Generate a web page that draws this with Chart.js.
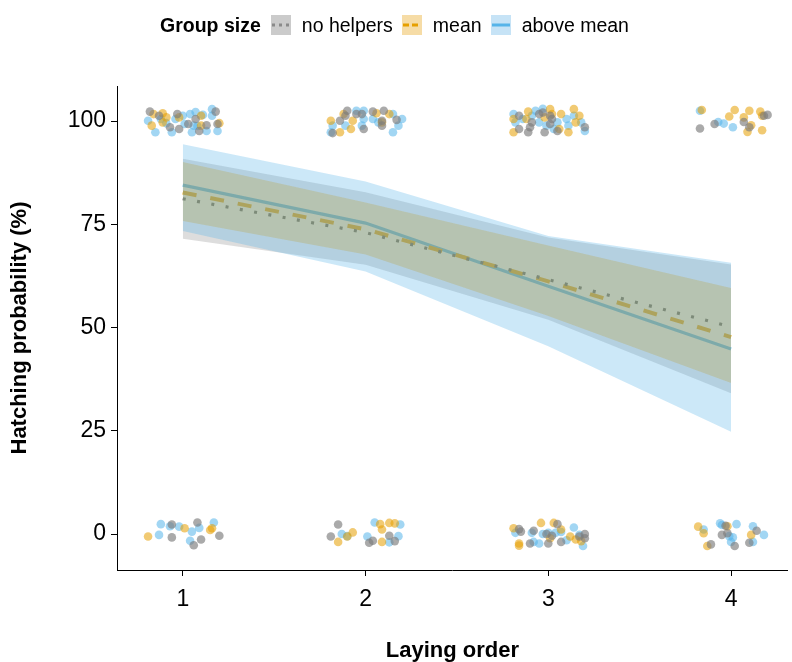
<!DOCTYPE html>
<html><head><meta charset="utf-8">
<script src="https://cdn.jsdelivr.net/npm/chart.js@4.4.0/dist/chart.umd.min.js"></script>
<style>
html,body{margin:0;padding:0;background:#fff;}
#wrap{position:relative;width:792px;height:662px;overflow:hidden;}
#c{position:absolute;left:0;top:0;}
#legend{position:absolute;left:160px;top:13px;height:24px;display:flex;align-items:center;font-family:"Liberation Sans",Arial,sans-serif;font-size:19.5px;color:#000;white-space:nowrap;}
.key{position:relative;display:inline-block;width:20px;height:20px;}
.key svg{position:absolute;left:0;top:0;}
</style></head>
<body><div id="wrap"><canvas id="c" width="792" height="662"></canvas>
<div id="legend">
<b style="margin-right:10px">Group size</b>
<span class="key" style="background:#cbcbcb"><svg width="20" height="20"><line x1="1" y1="10" x2="19" y2="10" stroke="#8a8a8a" stroke-width="3" stroke-dasharray="3,4"/></svg></span>
<span style="margin:0 9px 0 11px">no helpers</span>
<span class="key" style="background:#f6dca6"><svg width="20" height="20"><line x1="1" y1="10" x2="19" y2="10" stroke="#e69f00" stroke-width="3" stroke-dasharray="6,3"/></svg></span>
<span style="margin:0 9px 0 11px">mean</span>
<span class="key" style="background:#c6e3f6"><svg width="20" height="20"><line x1="1" y1="10" x2="19" y2="10" stroke="#56b4e9" stroke-width="3"/></svg></span>
<span style="margin:0 0 0 11px">above mean</span>
</div>
</div>
<script>
// ---- data ----
const layingOrder = [1, 2, 3, 4];
const yTickValues = [0, 25, 50, 75, 100];

const noHelpersFit  = [81.2, 73.0, 61.6, 50.2];
const noHelpersLow  = [71.5, 65.2, 51.9, 34.1];
const noHelpersHigh = [90.9, 82.8, 71.8, 65.3];

const meanFit  = [82.7, 73.8, 61.2, 47.7];
const meanLow  = [75.8, 67.7, 52.8, 36.6];
const meanHigh = [90.1, 80.3, 69.9, 59.6];

const aboveMeanFit  = [84.5, 75.3, 60.0, 44.8];
const aboveMeanLow  = [73.4, 63.6, 45.5, 24.8];
const aboveMeanHigh = [94.4, 85.4, 72.2, 65.7];

// jittered raw observations [laying order, hatched %]
const noHelpersPts = [
 [0.82,102.3],[0.93,98.5],[0.97,101.7],[0.98,98.1],[1.03,99.3],[1.07,100.5],[1.09,97.6],[1.18,102.3],[1.19,99.3],[0.87,101.3],[1.13,99.0],
 [1.82,97.1],[1.86,100.1],[1.90,102.5],[1.89,101.3],[1.95,101.7],[1.98,101.7],[1.99,98.1],[2.04,102.3],[2.09,98.9],[2.10,102.5],[2.17,100.3],[2.09,100.1],
 [2.84,98.1],[2.89,97.3],[2.91,99.7],[2.90,98.5],[2.95,101.7],[2.97,102.1],[2.98,97.3],[3.01,101.3],[3.02,100.5],[3.01,99.3],[3.05,97.6],[3.20,98.5],[2.84,101.3],
 [3.83,98.2],[3.91,99.3],[4.07,99.8],[4.10,98.5],[4.18,101.3],[4.20,101.5],
 [0.94,2.3],[0.94,-0.8],[1.06,-2.7],[1.08,2.8],[1.10,-1.3],[1.20,-0.4],
 [1.85,2.3],[1.81,-0.6],[2.02,-2.1],[2.04,-1.6],[2.13,-0.4],[2.16,-1.7],
 [2.84,1.2],[2.85,0.6],[2.90,-2.3],[2.92,0.8],[2.99,0.0],[3.00,-2.3],[3.02,-0.4],[3.05,2.4],[3.07,-1.9],[3.17,-0.6],[3.20,0.0],[3.20,-1.0],
 [3.89,-2.5],[3.97,2.0],[3.95,-0.2],[3.98,0.2],[4.02,-2.9],[4.14,0.8],[4.10,-2.1]
];
const meanPts = [
 [0.84,101.7],[0.83,98.9],[0.89,101.9],[0.98,100.9],[1.10,101.3],[1.10,98.9],[1.20,99.5],[0.91,100.9],[0.89,99.7],
 [1.81,100.1],[1.86,97.3],[1.88,101.7],[1.93,100.1],[1.92,98.1],[2.06,101.9],[2.13,101.7],[2.09,99.7],
 [2.81,100.5],[2.81,97.3],[2.89,102.3],[2.98,100.9],[3.01,102.9],[3.02,101.7],[3.06,98.1],[3.07,101.7],[3.11,97.3],[3.14,102.9],[3.17,101.3],[3.15,99.7],[2.88,100.5],
 [3.84,102.7],[3.99,101.1],[4.02,102.7],[4.07,100.9],[4.10,102.5],[4.11,99.0],[4.09,97.4],[4.16,102.3],[4.17,97.8],[4.17,101.3],
 [0.81,-0.6],[1.01,1.4],[1.15,1.0],[1.16,1.4],
 [1.85,-1.9],[1.90,-0.6],[1.93,0.4],[2.08,2.4],[2.09,1.1],[2.13,2.7],[2.16,2.6],[2.09,-1.9],
 [2.81,1.4],[2.84,-2.3],[2.84,-2.8],[2.96,2.7],[3.01,-1.0],[3.03,2.7],[3.07,1.1],[3.12,-0.6],[3.15,-1.3],[3.18,-1.7],
 [3.82,1.8],[3.85,0.2],[3.87,-2.9],[3.98,1.9],[4.11,-0.2]
];
const aboveMeanPts = [
 [0.81,100.1],[0.85,97.3],[0.88,100.5],[0.91,99.5],[0.94,97.3],[1.00,101.3],[1.01,99.3],[1.05,97.3],[1.04,101.7],[1.07,102.2],[1.11,101.5],[1.13,97.6],[1.16,102.9],[1.16,101.3],[1.19,97.6],[0.96,100.5],[1.06,98.9],[1.08,98.8],
 [1.82,98.9],[1.81,97.3],[1.89,98.9],[1.95,102.5],[1.99,102.5],[1.98,98.9],[1.99,100.5],[2.04,100.5],[2.15,101.7],[2.20,100.5],[2.18,98.9],[2.15,97.3],[2.07,99.7],
 [2.81,101.7],[2.82,99.7],[2.86,100.5],[2.91,101.3],[2.93,102.5],[2.95,99.7],[2.99,98.9],[3.05,99.7],[3.03,98.1],[3.10,100.5],[3.11,98.9],[3.14,101.3],[3.18,99.7],[3.20,97.6],[2.97,103.0],
 [3.83,102.5],[3.93,99.8],[3.96,99.4],[4.01,98.5],
 [0.87,-0.2],[0.88,2.4],[0.93,1.9],[0.98,1.8],[1.05,0.6],[1.04,-1.6],[1.09,1.5],[1.17,2.8],
 [1.87,0.0],[1.90,-0.5],[2.05,2.8],[2.19,2.3],[2.01,-0.6],[2.13,-2.0],[2.18,-0.5],
 [2.82,0.3],[2.91,0.3],[2.92,-1.9],[2.95,-2.3],[2.97,0.0],[3.00,0.3],[3.04,0.3],[3.07,0.5],[3.10,-1.5],[3.14,1.6],[3.17,-0.2],[3.19,-2.9],
 [3.85,1.1],[3.94,2.6],[3.95,2.2],[3.99,-0.5],[4.01,-0.8],[4.00,-1.9],[4.03,2.4],[4.12,1.9],[4.12,-1.9],[4.18,-0.2]
];

// ---- chart ----
const toXY = (ys) => layingOrder.map((x, i) => ({x: x, y: ys[i]}));
const toPts = (arr) => arr.map(p => ({x: p[0], y: p[1]}));

const ribbon = (hi, lo, color, order) => [
  {type:'line', data: toXY(hi), borderWidth:0, pointRadius:0, fill:'+1', backgroundColor: color, order: order, tension:0},
  {type:'line', data: toXY(lo), borderWidth:0, pointRadius:0, fill:false, order: order, tension:0}
];
const fitLine = (ys, color, dash, width) => ({
  type:'line', data: toXY(ys), borderColor: color, borderWidth: width, borderDash: dash,
  borderCapStyle:'butt', pointRadius:0, fill:false, order: 20, tension:0
});
const pts = (arr, color) => ({
  type:'scatter', data: toPts(arr), backgroundColor: color, borderWidth:0, pointRadius:4.3, order:1
});

const datasets = [
  fitLine(noHelpersFit, '#555555', [3, 11.5], 3.2),
  fitLine(meanFit, '#e69f00', [14, 14], 4),
  fitLine(aboveMeanFit, '#56b4e9', [], 3.2),
  ...ribbon(noHelpersHigh, noHelpersLow, 'rgba(153,153,153,0.33)', 9),
  ...ribbon(meanHigh, meanLow, 'rgba(230,159,0,0.30)', 8),
  ...ribbon(aboveMeanHigh, aboveMeanLow, 'rgba(86,180,233,0.30)', 7),
  pts(noHelpersPts, 'rgba(125,125,125,0.65)'),
  pts(meanPts, 'rgba(230,159,0,0.55)'),
  pts(aboveMeanPts, 'rgba(86,180,233,0.55)')
];

const fontFam = '"Liberation Sans", Arial, sans-serif';
new Chart(document.getElementById('c'), {
  type: 'scatter',
  data: { datasets },
  options: {
    responsive: false,
    animation: false,
    events: [],
    layout: { padding: { top: 86, right: 2, left: 0, bottom: 0 } },
    plugins: { legend: { display: false }, tooltip: { enabled: false } },
    scales: {
      x: {
        type: 'linear', min: 0.64, max: 4.31,
        afterBuildTicks: (s) => { s.ticks = layingOrder.map(v => ({value: v})); },
        afterFit: (s) => { s.height = 92; },
        ticks: { color: '#000', font: { family: fontFam, size: 23 }, padding: 10, callback: (v) => String(v) },
        grid: { drawOnChartArea: false, color: '#000', tickLength: 6, lineWidth: 1 },
        border: { display: true, color: '#000', width: 1 },
        title: { display: true, text: 'Laying order', color: '#000', font: { family: fontFam, size: 22, weight: 'bold' }, padding: { top: 0, bottom: -2 } }
      },
      y: {
        type: 'linear', min: -8.7, max: 108.5,
        afterBuildTicks: (s) => { s.ticks = yTickValues.map(v => ({value: v})); },
        afterFit: (s) => { s.width = 117; },
        ticks: { color: '#000', font: { family: fontFam, size: 23 }, padding: 5, callback: (v) => String(v) },
        grid: { drawOnChartArea: false, color: '#000', tickLength: 6, lineWidth: 1 },
        border: { display: true, color: '#000', width: 1 },
        title: { display: true, text: 'Hatching probability (%)', color: '#000', font: { family: fontFam, size: 22, weight: 'bold' }, padding: { top: 7, bottom: 0 } }
      }
    }
  }
});
</script>
</body></html>
